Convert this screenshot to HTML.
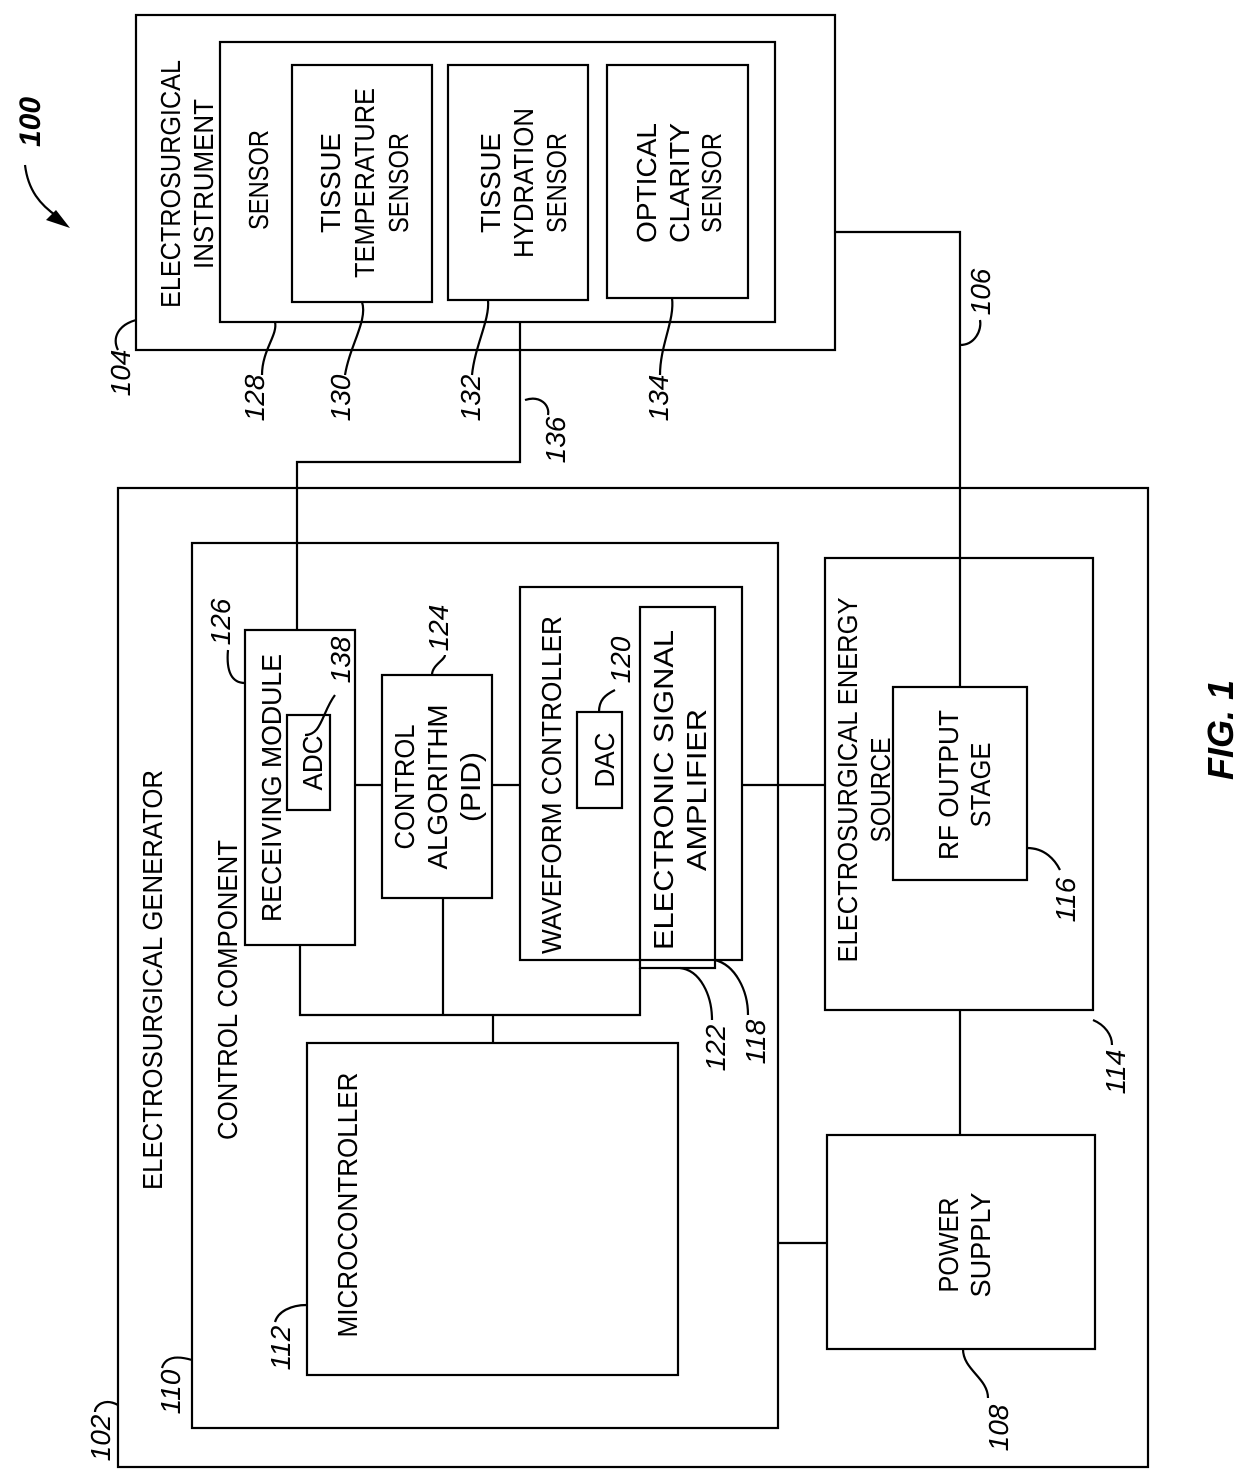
<!DOCTYPE html>
<html><head><meta charset="utf-8"><style>
html,body{margin:0;padding:0;background:#fff}
svg{display:block}
text{font-family:"Liberation Sans",sans-serif;fill:#000}
.t{font-size:28px}
.n{font-size:28px;font-style:italic}
</style></head><body>
<svg width="1240" height="1483" viewBox="0 0 1240 1483" xmlns="http://www.w3.org/2000/svg">
<g fill="none" stroke="#000" stroke-width="2.2">
<rect x="136" y="15" width="699" height="335"/>
<rect x="220" y="42" width="555" height="280"/>
<rect x="292" y="65" width="140" height="237"/>
<rect x="448" y="65" width="140" height="235"/>
<rect x="607" y="65" width="141" height="233"/>
<rect x="118" y="488" width="1030" height="979"/>
<rect x="192" y="543" width="586" height="885"/>
<rect x="245" y="630" width="110" height="315"/>
<rect x="287" y="715" width="43" height="95"/>
<rect x="382" y="675" width="110" height="223"/>
<rect x="520" y="587" width="222" height="373"/>
<rect x="577" y="712" width="45" height="96"/>
<rect x="640" y="607" width="75" height="361"/>
<rect x="307" y="1043" width="371" height="332"/>
<rect x="825" y="558" width="268" height="452"/>
<rect x="893" y="687" width="134" height="193"/>
<rect x="827" y="1135" width="268" height="214"/>
<path d="M520 322V462H297V630"/>
<path d="M835 232H960V687"/>
<path d="M355 785H382M492 785H520M742 785H825"/>
<path d="M300 945V1015H640V968M443 898V1015M493 1015V1043"/>
<path d="M960 1010V1135M778 1243H827"/>
<!-- leaders -->
<path d="M136 320C118 325 112 338 118 350"/>
<path d="M275 322C278 335 262 350 262 375"/>
<path d="M362 302C368 320 350 345 345 375"/>
<path d="M488 300C490 320 475 345 472 375"/>
<path d="M672 298C675 320 660 345 660 375"/>
<path d="M525 400C540 395 550 405 548 415"/>
<path d="M960 345C975 345 982 330 980 320"/>
<path d="M245 683C232 683 226 672 228 650"/>
<path d="M432 675C432 665 445 660 445 655"/>
<path d="M305 735C322 735 322 712 335 695"/>
<path d="M599 712C599 700 605 695 615 690"/>
<path d="M1027 848C1045 848 1055 860 1060 870"/>
<path d="M1093 1020C1105 1025 1112 1035 1112 1045"/>
<path d="M680 968C700 970 712 995 712 1020"/>
<path d="M715 960C735 965 748 990 748 1015"/>
<path d="M307 1305C290 1305 278 1312 275 1322"/>
<path d="M192 1360C175 1355 165 1358 162 1368"/>
<path d="M118 1405C105 1398 95 1405 95 1412"/>
<path d="M963 1349C963 1370 988 1378 988 1398"/>
<path d="M25 165C28 190 40 205 58 217"/>
</g>
<path d="M70 228L46 220L56 210Z" fill="#000"/>
<g class="t" text-anchor="middle">
<text transform="translate(180,184) rotate(-90)" textLength="248" lengthAdjust="spacingAndGlyphs">ELECTROSURGICAL</text>
<text transform="translate(213,184) rotate(-90)" textLength="170" lengthAdjust="spacingAndGlyphs">INSTRUMENT</text>
<text transform="translate(268,180) rotate(-90)" textLength="100" lengthAdjust="spacingAndGlyphs">SENSOR</text>
<text transform="translate(340,183) rotate(-90)" textLength="100" lengthAdjust="spacingAndGlyphs">TISSUE</text>
<text transform="translate(374,183) rotate(-90)" textLength="190" lengthAdjust="spacingAndGlyphs">TEMPERATURE</text>
<text transform="translate(408,183) rotate(-90)" textLength="100" lengthAdjust="spacingAndGlyphs">SENSOR</text>
<text transform="translate(500,183) rotate(-90)" textLength="100" lengthAdjust="spacingAndGlyphs">TISSUE</text>
<text transform="translate(533,183) rotate(-90)" textLength="150" lengthAdjust="spacingAndGlyphs">HYDRATION</text>
<text transform="translate(566,183) rotate(-90)" textLength="100" lengthAdjust="spacingAndGlyphs">SENSOR</text>
<text transform="translate(656,183) rotate(-90)" textLength="120" lengthAdjust="spacingAndGlyphs">OPTICAL</text>
<text transform="translate(689,183) rotate(-90)" textLength="120" lengthAdjust="spacingAndGlyphs">CLARITY</text>
<text transform="translate(721,183) rotate(-90)" textLength="100" lengthAdjust="spacingAndGlyphs">SENSOR</text>
<text transform="translate(162,980) rotate(-90)" textLength="420" lengthAdjust="spacingAndGlyphs">ELECTROSURGICAL GENERATOR</text>
<text transform="translate(237,990) rotate(-90)" textLength="300" lengthAdjust="spacingAndGlyphs">CONTROL COMPONENT</text>
<text transform="translate(281,788) rotate(-90)" textLength="268" lengthAdjust="spacingAndGlyphs">RECEIVING MODULE</text>
<text transform="translate(322,763) rotate(-90)" textLength="55" lengthAdjust="spacingAndGlyphs">ADC</text>
<text transform="translate(414,787) rotate(-90)" textLength="125" lengthAdjust="spacingAndGlyphs">CONTROL</text>
<text transform="translate(447,787) rotate(-90)" textLength="165" lengthAdjust="spacingAndGlyphs">ALGORITHM</text>
<text transform="translate(480,787) rotate(-90)" textLength="70" lengthAdjust="spacingAndGlyphs">(PID)</text>
<text transform="translate(561,785) rotate(-90)" textLength="338" lengthAdjust="spacingAndGlyphs">WAVEFORM CONTROLLER</text>
<text transform="translate(614,760) rotate(-90)" textLength="55" lengthAdjust="spacingAndGlyphs">DAC</text>
<text transform="translate(673,790) rotate(-90)" textLength="320" lengthAdjust="spacingAndGlyphs">ELECTRONIC SIGNAL</text>
<text transform="translate(706,790) rotate(-90)" textLength="162" lengthAdjust="spacingAndGlyphs">AMPLIFIER</text>
<text transform="translate(357,1205) rotate(-90)" textLength="265" lengthAdjust="spacingAndGlyphs">MICROCONTROLLER</text>
<text transform="translate(857,780) rotate(-90)" textLength="365" lengthAdjust="spacingAndGlyphs">ELECTROSURGICAL ENERGY</text>
<text transform="translate(890,790) rotate(-90)" textLength="105" lengthAdjust="spacingAndGlyphs">SOURCE</text>
<text transform="translate(958,785) rotate(-90)" textLength="150" lengthAdjust="spacingAndGlyphs">RF OUTPUT</text>
<text transform="translate(990,785) rotate(-90)" textLength="85" lengthAdjust="spacingAndGlyphs">STAGE</text>
<text transform="translate(958,1245) rotate(-90)" textLength="95" lengthAdjust="spacingAndGlyphs">POWER</text>
<text transform="translate(990,1245) rotate(-90)" textLength="105" lengthAdjust="spacingAndGlyphs">SUPPLY</text>
</g>
<g class="n" text-anchor="middle">
<text transform="translate(130,373) rotate(-90)">104</text>
<text transform="translate(264,398) rotate(-90)">128</text>
<text transform="translate(350,398) rotate(-90)">130</text>
<text transform="translate(480,398) rotate(-90)">132</text>
<text transform="translate(668,398) rotate(-90)">134</text>
<text transform="translate(565,440) rotate(-90)">136</text>
<text transform="translate(990,292) rotate(-90)">106</text>
<text transform="translate(230,622) rotate(-90)">126</text>
<text transform="translate(448,628) rotate(-90)">124</text>
<text transform="translate(350,660) rotate(-90)">138</text>
<text transform="translate(630,660) rotate(-90)">120</text>
<text transform="translate(1075,900) rotate(-90)">116</text>
<text transform="translate(1125,1072) rotate(-90)">114</text>
<text transform="translate(725,1048) rotate(-90)">122</text>
<text transform="translate(765,1042) rotate(-90)">118</text>
<text transform="translate(290,1348) rotate(-90)">112</text>
<text transform="translate(180,1392) rotate(-90)">110</text>
<text transform="translate(110,1438) rotate(-90)">102</text>
<text transform="translate(1008,1428) rotate(-90)">108</text>
<text transform="translate(40,122) rotate(-90)" style="font-weight:bold;font-size:30px">100</text>
<text transform="translate(1233,730) rotate(-90)" style="font-weight:bold;font-size:36px">FIG. 1</text>
</g>
</svg>
</body></html>
